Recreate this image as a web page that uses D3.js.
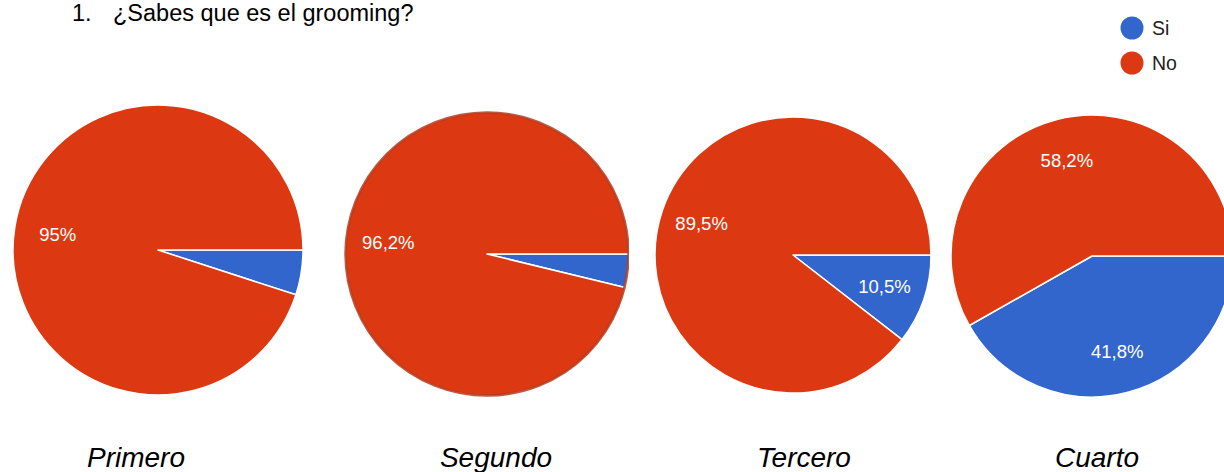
<!DOCTYPE html>
<html>
<head>
<meta charset="utf-8">
<script src="https://cdn.jsdelivr.net/npm/d3@7/dist/d3.min.js"></script>
<style>
  html, body { margin: 0; padding: 0; background: #fff; }
  svg { display: block; }
</style>
</head>
<body>
<svg id="chart" width="1224" height="472"></svg>
<script>
// ---- data ----
const titleNumber = "1.";
const titleText = "¿Sabes que es el grooming?";
const categories = ["Primero", "Segundo", "Tercero", "Cuarto"];
const seriesNames = ["Si", "No"];
const siValues = [5, 3.8, 10.5, 41.8];
const noValues = [95, 96.2, 89.5, 58.2];
const siLabels = ["5%", "3,8%", "10,5%", "41,8%"];
const noLabels = ["95%", "96,2%", "89,5%", "58,2%"];
const colors = ["#3366CC", "#DC3912"];

// ---- layout ----
const pieCx = [158, 487, 793, 1092];
const pieCy = [250, 254, 255, 256];
const pieR  = [145, 142, 138, 141];
const clipRight = [1224, 629, 1224, 1224];
const catX = [136, 496, 804, 1097];

const svg = d3.select("#chart");
const defs = svg.append("defs");

svg.append("text").attr("x", 72).attr("y", 21)
  .attr("font-family", "Liberation Sans, Arial, sans-serif").attr("font-size", 23.5)
  .attr("fill", "#000").text(titleNumber);
svg.append("text").attr("x", 113).attr("y", 21)
  .attr("font-family", "Liberation Sans, Arial, sans-serif").attr("font-size", 23.5)
  .attr("fill", "#000").text(titleText);

const color = d3.scaleOrdinal().domain(seriesNames).range(colors);

const pie = d3.pie().sort(null).value(d => d.value)
  .startAngle(Math.PI / 2).endAngle(Math.PI / 2 + 2 * Math.PI);

categories.forEach((cat, i) => {
  const data = [
    { name: "Si", value: siValues[i], label: siLabels[i] },
    { name: "No", value: noValues[i], label: noLabels[i] }
  ];
  const arcs = pie(data);
  const r = pieR[i];
  const arc = d3.arc().innerRadius(0).outerRadius(r);
  const labelArc = d3.arc().innerRadius(r * 0.7).outerRadius(r * 0.7);

  defs.append("clipPath").attr("id", "clip" + i)
    .append("rect").attr("x", 0).attr("y", 0)
    .attr("width", clipRight[i]).attr("height", 472);

  const g = svg.append("g").attr("clip-path", `url(#clip${i})`)
    .append("g").attr("transform", `translate(${pieCx[i]},${pieCy[i]})`);

  g.selectAll("path").data(arcs).join("path")
    .attr("d", arc)
    .attr("fill", d => color(d.data.name))
    .attr("stroke", "#fff").attr("stroke-width", 1.5).attr("stroke-linejoin", "round");

  if (i === 1) {
    g.append("circle").attr("r", r - 0.5).attr("fill", "none")
      .attr("stroke", "#b5391c").attr("stroke-width", 2.5).attr("opacity", 0.85);
  }

  g.selectAll("text").data(arcs.filter(d => d.data.value >= 8)).join("text")
    .attr("transform", d => `translate(${labelArc.centroid(d)})`)
    .attr("text-anchor", "middle").attr("dy", "0.36em")
    .attr("font-family", "Liberation Sans, Arial, sans-serif").attr("font-size", 18.5)
    .attr("fill", "#fff").text(d => d.data.label);

  svg.append("text").attr("x", catX[i]).attr("y", 467)
    .attr("text-anchor", "middle")
    .attr("font-family", "Liberation Sans, Arial, sans-serif").attr("font-size", 28)
    .attr("font-style", "italic").attr("fill", "#000").text(cat);
});

// legend
const leg = svg.append("g");
seriesNames.forEach((s, j) => {
  const y = 28 + j * 35;
  leg.append("circle").attr("cx", 1132).attr("cy", y).attr("r", 11.5).attr("fill", color(s));
  leg.append("text").attr("x", 1152).attr("y", y).attr("dy", "0.36em")
    .attr("font-family", "Liberation Sans, Arial, sans-serif").attr("font-size", 19.5)
    .attr("fill", "#222").text(s);
});
</script>
</body>
</html>
